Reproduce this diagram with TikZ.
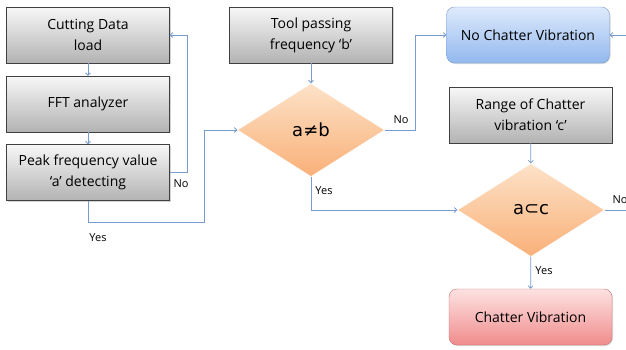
\documentclass[tikz,border=0pt]{standalone}
\usepackage{fontspec}
\setmainfont{Open Sans}
\newfontfamily\symfont{DejaVu Sans}
\usetikzlibrary{arrows.meta}
\usetikzlibrary{shapes.geometric}
\usetikzlibrary{shadows}
\tikzset{>={Straight Barb[scale=.8]}}
\definecolor{linkblue}{RGB}{120,156,207}
\definecolor{boxedge}{RGB}{64,64,64}
\definecolor{bluetop}{RGB}{222,234,252}
\definecolor{bluebot}{RGB}{146,184,238}
\definecolor{blueedge}{RGB}{120,156,210}
\definecolor{redtop}{RGB}{253,226,226}
\definecolor{redbot}{RGB}{240,140,140}
\definecolor{rededge}{RGB}{205,110,110}
\definecolor{ortop}{RGB}{253,226,200}
\definecolor{orbot}{RGB}{249,176,120}
\tikzset{
  graybox/.style={draw=boxedge, top color=white!94!gray, bottom color=gray!60,
    minimum width=163pt, minimum height=56pt, inner sep=0pt, align=center,
    font=\fontsize{14}{21}\selectfont,
    drop shadow={opacity=.35, shadow xshift=1pt, shadow yshift=-1pt}},
  endbox/.style={rounded corners=8pt, minimum width=163pt, minimum height=56pt,
    inner sep=0pt, align=center, font=\fontsize{14}{21}\selectfont,
    drop shadow={opacity=.3, shadow xshift=1pt, shadow yshift=-1pt}},
  decide/.style={diamond, draw=white, top color=ortop, bottom color=orbot,
    minimum width=147pt, minimum height=93pt, inner sep=0pt,
    font=\symfont\fontsize{18}{20}\selectfont},
  link/.style={draw=linkblue, thick},
  tag/.style={font=\fontsize{11}{12}\selectfont}
}
\begin{document}
\begin{tikzpicture}[x=1pt, y=-1pt]
  \useasboundingbox (0,0) rectangle (626,349);
  % left column
  \node[graybox] (load) at (88,35) {Cutting Data\\load};
  \node[graybox] (fft) at (88,104) {FFT analyzer};
  \node[graybox] (peak) at (88,172.5) {Peak frequency value\\‘a’ detecting};
  % middle column
  \node[graybox] (tool) at (311,35) {Tool passing\\frequency ‘b’};
  \node[decide] (neq) at (311,130) {a≠b};
  % right column
  \node[endbox, draw=blueedge, top color=bluetop, bottom color=bluebot] (nochat) at (528,35) {No Chatter Vibration};
  \node[graybox] (range) at (530.5,115) {Range of Chatter\\vibration ‘c’};
  \node[decide] (sub) at (531,210) {a⊂c};
  \node[endbox, draw=rededge, top color=redtop, bottom color=redbot] (chat) at (530.5,317) {Chatter Vibration};
  % connectors
  \draw[link, ->] (load) -- (fft);
  \draw[link, ->] (fft) -- (peak);
  \draw[link, ->] (peak.east) -- ++(18,0) |- (load.east);
  \draw[link, ->] (peak.south) |- ++(116,22) |- (neq.west);
  \draw[link, ->] (tool) -- (neq);
  \draw[link, ->] (neq.east) -- ++(31,0) |- (nochat.west);
  \draw[link, ->] (neq.south) |- (sub.west);
  \draw[link, ->] (range) -- (sub);
  \draw[link, ->] (sub) -- (chat);
  \draw[link, ->] (sub.east) -- ++(40,0) |- (nochat.east);
  % labels
  \node[tag] (nopeak) at (181,184) {No};
  \node[tag] (yespeak) at (98,238) {Yes};
  \node[tag] (noneq) at (401,120) {No};
  \node[tag] (yesneq) at (324,191) {Yes};
  \node[tag] (nosub) at (620,200) {No};
  \node[tag] (yessub) at (544,271) {Yes};
\end{tikzpicture}
\end{document}
